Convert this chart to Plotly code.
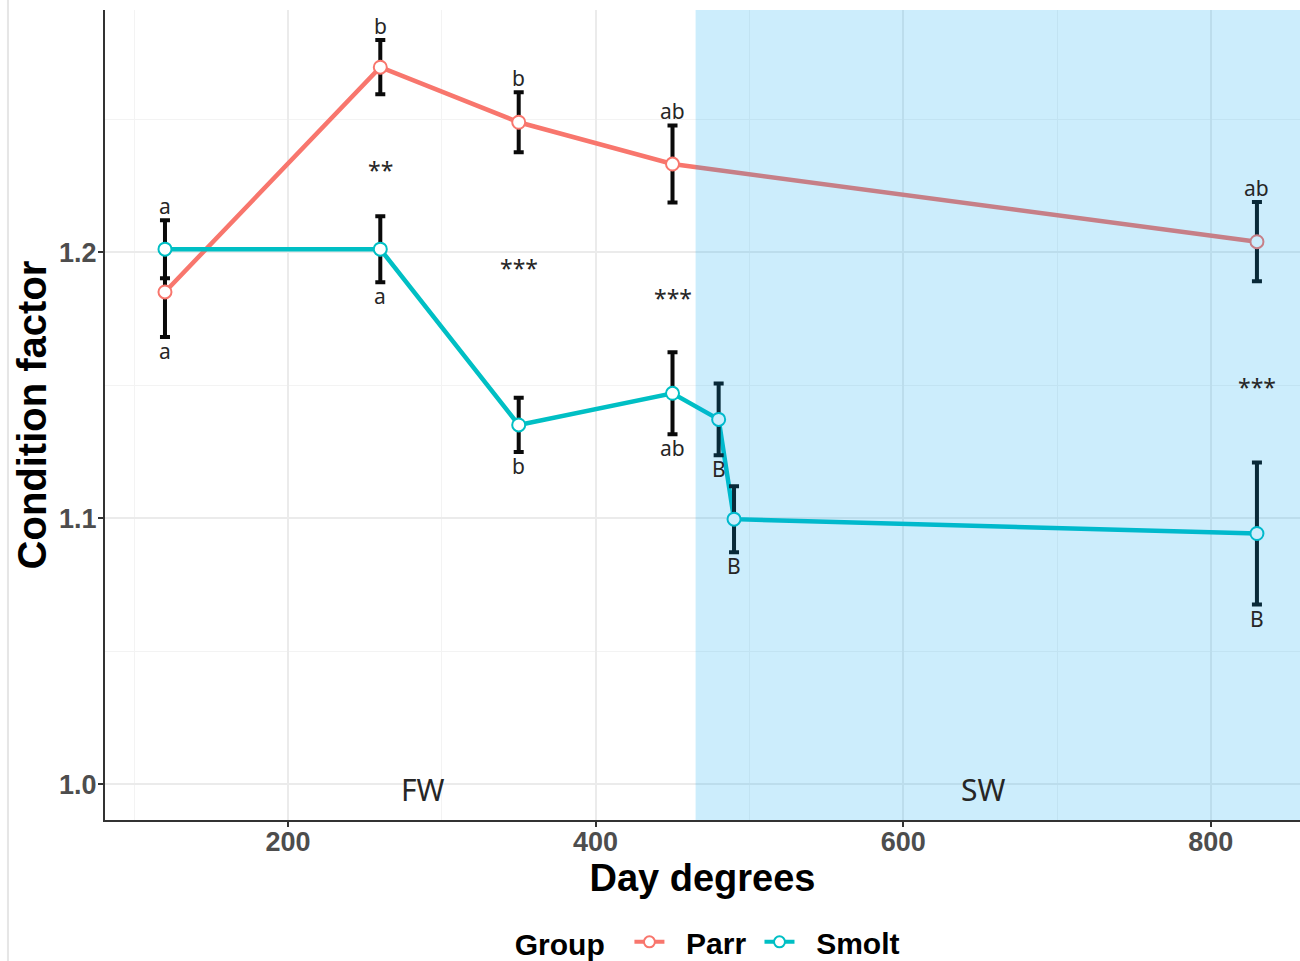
import plotly.graph_objects as go

# ---- data ----
parr_x = [120, 260, 350, 450, 830]
parr_y = [1.1850, 1.2695, 1.2488, 1.2331, 1.2039]
parr_se = [0.0169, 0.0102, 0.0113, 0.0145, 0.0149]
parr_lab = ["a", "b", "b", "ab", "ab"]
parr_pos = ["below", "above", "above", "above", "above"]

smolt_x = [120, 260, 350, 450, 480, 490, 830]
smolt_y = [1.2011, 1.2011, 1.1350, 1.1469, 1.1371, 1.0996, 1.0942]
smolt_se = [0.0109, 0.0124, 0.0102, 0.0154, 0.0135, 0.0124, 0.0267]
smolt_lab = ["a", "a", "b", "ab", "B", "B", "B"]
smolt_pos = ["above", "below", "below", "below", "below", "below", "below"]

star_x = [260, 350, 450, 830]
star_y = [1.2309, 1.1941, 1.1828, 1.1493]
star_txt = ["**", "***", "***", "***"]

phase_x = [288, 652]
phase_y = [0.998, 0.998]
phase_txt = ["FW", "SW"]
sw_start = 465

x_range = [81, 858]
y_range = [0.9865, 1.291]

PARR = "#F8766D"
SMOLT = "#00BFC4"
TXT_FONT = "Noto Sans"
AX_FONT = "Liberation Sans, Arial, sans-serif"
NB = "\u00a0"

fig = go.Figure()

# lines
for x, y, c in [(parr_x, parr_y, PARR), (smolt_x, smolt_y, SMOLT)]:
    fig.add_trace(go.Scatter(x=x, y=y, mode="lines", line=dict(color=c, width=4.5),
                             showlegend=False, hoverinfo="skip"))
# error bars
for x, y, se in [(parr_x, parr_y, parr_se), (smolt_x, smolt_y, smolt_se)]:
    fig.add_trace(go.Scatter(x=x, y=y, mode="markers", marker=dict(size=1, color="black"),
                             error_y=dict(type="data", array=se, color="#0a0a0a",
                                          thickness=4, width=5),
                             showlegend=False, hoverinfo="skip"))
# points
for x, y, c in [(parr_x, parr_y, PARR), (smolt_x, smolt_y, SMOLT)]:
    fig.add_trace(go.Scatter(x=x, y=y, mode="markers",
                             marker=dict(size=13, color="white", line=dict(color=c, width=2)),
                             showlegend=False))
# legend entries
for name, c in [("Parr", PARR), ("Smolt", SMOLT)]:
    fig.add_trace(go.Scatter(x=[None], y=[None], mode="lines+markers",
                             name=NB * 2 + name + NB,
                             line=dict(color=c, width=4),
                             marker=dict(size=11, color="white", line=dict(color=c, width=2))))

ann = []
for xs, ys, ses, labs, poss in [(parr_x, parr_y, parr_se, parr_lab, parr_pos),
                                (smolt_x, smolt_y, smolt_se, smolt_lab, smolt_pos)]:
    for x, y, se, lab, pos in zip(xs, ys, ses, labs, poss):
        if pos == "above":
            ann.append(dict(x=x, y=y + se, text=lab, yanchor="bottom", yshift=-2))
        else:
            ann.append(dict(x=x, y=y - se, text=lab, yanchor="top", yshift=2))
for a in ann:
    a.update(xref="x", yref="y", showarrow=False, xanchor="center",
             font=dict(family=TXT_FONT, size=21, color="#262626"))
for x, y, t in zip(star_x, star_y, star_txt):
    ann.append(dict(x=x, y=y, text=t, xref="x", yref="y", showarrow=False,
                    font=dict(family=TXT_FONT, size=23, color="#262626")))
for x, y, t in zip(phase_x, phase_y, phase_txt):
    ann.append(dict(x=x, y=y, text=t, xref="x", yref="y", showarrow=False,
                    font=dict(family=TXT_FONT, size=30, color="#262626")))

shapes = [
    dict(type="rect", xref="x", yref="paper", x0=sw_start, x1=x_range[1], y0=0, y1=1,
         fillcolor="rgb(0,165,240)", opacity=0.2, line=dict(width=0), layer="above"),
    dict(type="line", xref="paper", yref="paper", x0=-0.0812, x1=-0.0812, y0=-0.2, y1=1.02,
         line=dict(color="#E6E6E6", width=2)),
]

fig.update_layout(
    width=1300, height=961,
    margin=dict(l=105, r=0, t=10, b=141, autoexpand=False),
    paper_bgcolor="white", plot_bgcolor="white",
    annotations=ann, shapes=shapes,
    legend=dict(orientation="h", x=0.509, xanchor="center",
                yref="container", y=0.047, yanchor="top",
                title=dict(text="<b>Group</b>" + NB + NB, side="left",
                           font=dict(family=AX_FONT, size=30, color="black")),
                font=dict(family=AX_FONT, size=30, color="black", weight="bold"),
                itemwidth=30),
    xaxis=dict(range=x_range, tickvals=[200, 400, 600, 800], showgrid=True,
               gridcolor="#EBEBEB", gridwidth=1.5,
               minor=dict(tickvals=[100, 300, 500, 700], showgrid=True,
                          gridcolor="#F3F3F3", gridwidth=1),
               showline=True, linecolor="#333333", linewidth=2,
               ticks="outside", ticklen=5, tickcolor="#333333", tickwidth=1.5,
               ticklabelstandoff=-8,
               tickfont=dict(family=AX_FONT, size=27, color="#4D4D4D", weight="bold"),
               title=dict(text="<b>Day degrees</b>", standoff=6,
                          font=dict(family=AX_FONT, size=38, color="black")),
               automargin=False, zeroline=False),
    yaxis=dict(range=y_range, tickvals=[1.0, 1.1, 1.2], ticktext=["1.0", "1.1", "1.2"],
               showgrid=True, gridcolor="#EBEBEB", gridwidth=1.5,
               minor=dict(tickvals=[1.05, 1.15, 1.25], showgrid=True,
                          gridcolor="#F3F3F3", gridwidth=1),
               showline=True, linecolor="#333333", linewidth=2,
               ticks="outside", ticklen=5, tickcolor="#333333", tickwidth=1.5,
               ticklabelstandoff=-4,
               tickfont=dict(family=AX_FONT, size=27, color="#4D4D4D", weight="bold"),
               title=dict(text="<b>Condition factor</b>", standoff=0,
                          font=dict(family=AX_FONT, size=40, color="black")),
               automargin=False, zeroline=False),
)

fig.write_html("out.html")
